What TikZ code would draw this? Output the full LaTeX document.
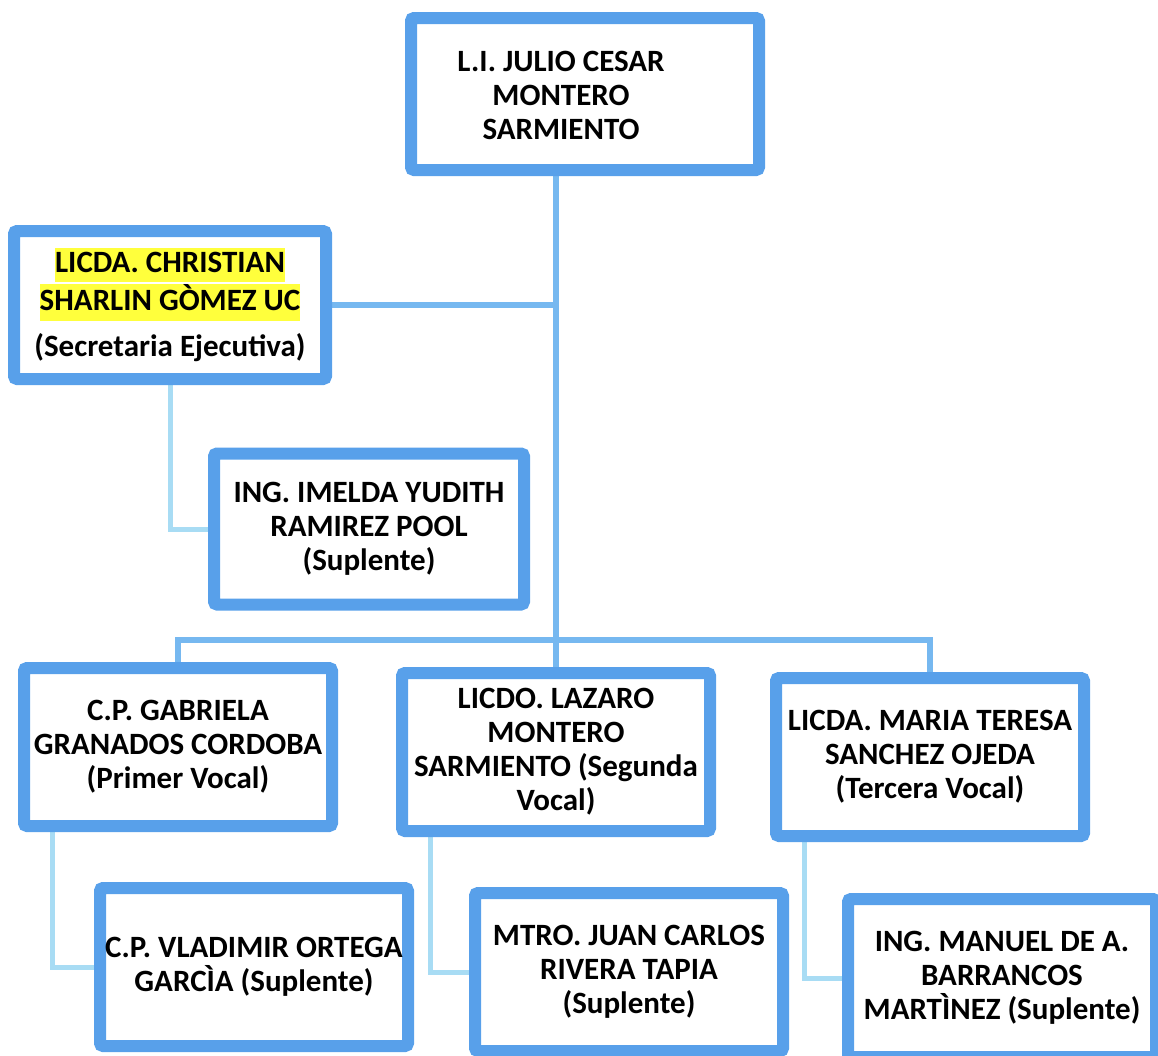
\documentclass[tikz,border=0pt]{standalone}
\usepackage{fontspec}
\setmainfont{Carlito}
\usetikzlibrary{positioning,backgrounds}
\definecolor{boxblue}{RGB}{88,160,234}
\definecolor{lineblue}{RGB}{118,184,240}
\definecolor{subblue}{RGB}{168,220,244}
\definecolor{hlyellow}{RGB}{255,255,60}
\newcommand{\hlt}[1]{{\setlength{\fboxsep}{0pt}\colorbox{hlyellow}{\strut #1}}}

\begin{document}
\begin{tikzpicture}[x=0.5pt, y=-0.5pt,
  persona/.style={draw=boxblue, line width=6pt, fill=white, align=center,
    rounded corners=1.5pt, font=\fontsize{15.5}{17}\selectfont\bfseries,
    minimum width=154pt, minimum height=79pt, inner sep=0pt},
  nombre/.style={align=center, font=\fontsize{15.5}{17}\selectfont\bfseries},
  tronco/.style={draw=lineblue, line width=3pt},
  rama/.style={draw=subblue, line width=2.5pt}]
  \useasboundingbox (0,0) rectangle (1158,1056);

  \node[persona, minimum width=174pt, minimum height=76pt] (julio) at (585,94) {};
  \node[nombre] (julio-txt) at (561,95) {L.I. JULIO CESAR\\MONTERO\\SARMIENTO};
  \node[persona, minimum width=156pt, minimum height=74pt] (sec) at (170,305)
    {\hlt{LICDA. CHRISTIAN}\\\hlt{SHARLIN GÒMEZ UC}\\[6pt](Secretaria Ejecutiva)};
  \node[persona, minimum width=155pt, minimum height=75.5pt] (ime) at (369,529)
    {ING. IMELDA YUDITH\\RAMIREZ POOL\\(Suplente)};

  \node[persona] (gab) at (178,747) {C.P. GABRIELA\\GRANADOS CORDOBA\\(Primer Vocal)};
  \node[persona] (laz) at (556,752) {LICDO. LAZARO\\MONTERO\\SARMIENTO (Segunda\\Vocal)};
  \node[persona] (mar) at (930,757) {LICDA. MARIA TERESA\\SANCHEZ OJEDA\\(Tercera Vocal)};

  \node[persona] (vla) at (254,967) {C.P. VLADIMIR ORTEGA\\GARCÌA (Suplente)};
  \node[persona] (jua) at (629,972) {MTRO. JUAN CARLOS\\RIVERA TAPIA\\(Suplente)};
  \node[persona] (man) at (1002,978) {ING. MANUEL DE A.\\BARRANCOS\\MARTÌNEZ (Suplente)};

  \coordinate (barra) at (556,640);

  \begin{scope}[on background layer]
    \path[tronco]
      (julio.south -| laz) edge (laz.north)
      (sec.east) edge (sec.east -| laz)
      (gab.north) edge[to path={|- (barra) -| (\tikztotarget)}] (mar.north);
    \path[rama]
      (sec.south) edge[to path={|- (\tikztotarget)}] (ime.west)
      ([xshift=-63pt]gab.south) edge[to path={|- (\tikztotarget)}] (vla.west)
      ([xshift=-63pt]laz.south) edge[to path={|- (\tikztotarget)}] (jua.west)
      ([xshift=-63pt]mar.south) edge[to path={|- (\tikztotarget)}] (man.west);
  \end{scope}
\end{tikzpicture}
\end{document}
